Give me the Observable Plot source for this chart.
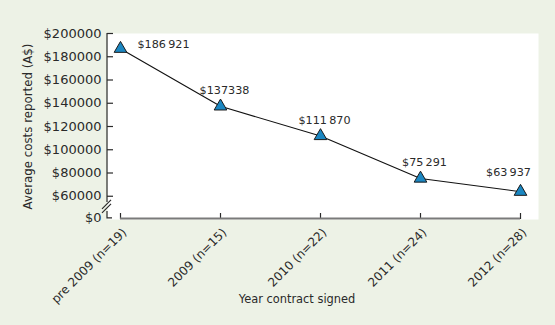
<!DOCTYPE html>
<html><head><meta charset="utf-8">
<script src="https://cdn.jsdelivr.net/npm/d3@7"></script>
<script src="https://cdn.jsdelivr.net/npm/@observablehq/plot@0.6"></script>
<style>body{margin:0;background:#edf2e6;}</style>
</head><body><div id="chart"></div>
<script>
const categories = ["pre 2009 (n=19)", "2009 (n=15)", "2010 (n=22)", "2011 (n=24)", "2012 (n=28)"];
const costs = [186921, 137338, 111870, 75291, 63937];
const costLabels = ["$186\u2009921", "$137338", "$111\u2009870", "$75\u2009291", "$63\u2009937"];
const yTicks = [0, 60000, 80000, 100000, 120000, 140000, 160000, 180000, 200000];
const yTickLabels = ["$0", "$60000", "$80000", "$100000", "$120000", "$140000", "$160000", "$180000", "$200000"];
const yTitle = "Average costs reported (A$)";
const xTitle = "Year contract signed";

// the axis is broken between $0 and $60000: $0 is drawn just below the break
const yBreakPos = 41800;
const yPos = d => (d === 0 ? yBreakPos : d);

const data = categories.map((c, i) => ({cat: c, cost: costs[i], label: costLabels[i], i}));
const ink = "#2a2a2a";

const chart = Plot.plot({
  width: 555, height: 325,
  marginLeft: 107, marginRight: 17, marginTop: 33, marginBottom: 106,
  style: {background: "#edf2e6", fontFamily: "DejaVu Sans", fontSize: "12px", color: ink},
  x: {type: "point", domain: categories, range: [119, 520], padding: 0, axis: null},
  y: {domain: [40000, 200000], axis: null},
  marks: [
    Plot.frame({fill: "white", stroke: "none"}),
    Plot.text(yTicks, {y: d => yPos(d), text: d => yTickLabels[yTicks.indexOf(d)], frameAnchor: "left", textAnchor: "end", dx: -6, fontSize: 13}),
    Plot.tickY(yTicks.filter(d => d > 0), {y: d => d, stroke: ink, strokeWidth: 1.2, insetRight: 431 - 6}),
    Plot.tickX(categories, {x: d => d, stroke: ink, strokeWidth: 1.2, insetTop: 186 - 6}),
    Plot.ruleY([40000], {x1: () => categories[0], x2: () => categories[categories.length - 1], dy: -1, stroke: "#7a7a7a", strokeWidth: 2}),
    Plot.text(categories, {x: d => d, frameAnchor: "bottom", rotate: -45, textAnchor: "end", lineAnchor: "middle", dx: 4, dy: 11, fontSize: 12, ariaLabel: "xticklabels"}),
    Plot.text([yTitle], {frameAnchor: "left", rotate: -90, textAnchor: "middle", dx: -79, lineAnchor: "middle", fontSize: 11.8, text: d => d}),
    Plot.text([xTitle], {frameAnchor: "bottom", textAnchor: "middle", dx: -26, dy: 80, lineAnchor: "middle", fontSize: 11.4, text: d => d}),
    Plot.line(data, {x: "cat", y: "cost", stroke: "#111", strokeWidth: 1.1}),
    Plot.dot(data, {x: "cat", y: "cost", symbol: "triangle", r: 4.7, fill: "#1b87c2", stroke: "#1a1a1a", strokeWidth: 1}),
    Plot.text(data.filter(d => d.i === 0), {x: "cat", y: "cost", text: "label", textAnchor: "start", dx: 17, dy: -4, fontSize: 11.2}),
    Plot.text(data.filter(d => d.i > 0 && d.i < 4), {x: "cat", y: "cost", text: "label", dx: 4, dy: -16, fontSize: 11.2}),
    Plot.text(data.filter(d => d.i === 4), {x: "cat", y: "cost", text: "label", dx: -12, dy: -19, fontSize: 11.2})
  ]
});

// italic "n" in category labels
d3.select(chart).selectAll('g[aria-label="xticklabels"] text').each(function() {
  const t = this.textContent;
  const m = t.match(/^(.*\()n(=.*)$/);
  if (!m) return;
  const s = d3.select(this);
  s.text(null);
  s.append("tspan").text(m[1]);
  s.append("tspan").attr("font-style", "italic").text("n");
  s.append("tspan").text(m[2]);
});

// left axis line with scale break
const ys = chart.scale("y");
const x0 = 107;
const g = d3.select(chart).append("g").attr("stroke", ink).attr("fill", "none").attr("stroke-width", 1.2);
const yTop = ys.apply(yTicks[yTicks.length - 1]);
const yZero = ys.apply(yBreakPos);
g.append("path").attr("d", `M${x0},${yTop}V${yZero - 15}`);
g.append("path").attr("d", `M${x0 - 5},${yZero - 8}L${x0 + 4},${yZero - 17}M${x0 - 5},${yZero - 4}L${x0 + 4},${yZero - 13}`);
g.append("path").attr("d", `M${x0},${yZero - 6}V${yZero + 1}H${x0 + 5}`);

document.getElementById("chart").appendChild(chart);
</script>
</body></html>
